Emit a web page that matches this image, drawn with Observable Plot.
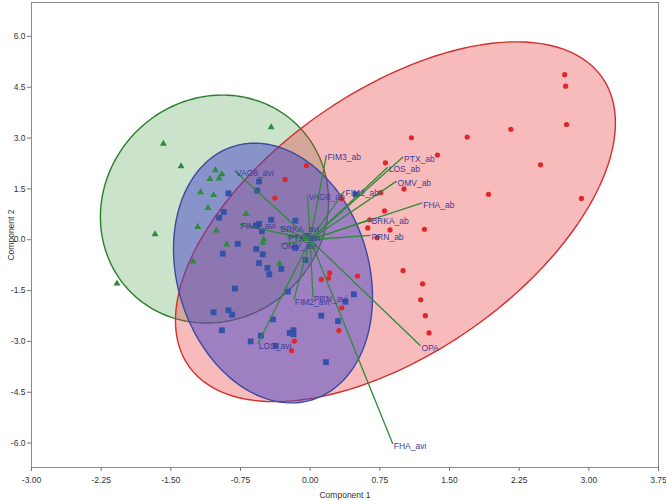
<!DOCTYPE html>
<html><head><meta charset="utf-8">
<script src="https://cdn.jsdelivr.net/npm/d3@7"></script>
<script src="https://cdn.jsdelivr.net/npm/@observablehq/plot@0.6"></script>
<style>body{margin:0;background:#fff;font-family:Arial,"Liberation Sans",sans-serif}</style>
</head><body><div id="chart"></div>
<script>
// Group "ab" (red circles)
const redX = [2.74,2.75,2.76,2.16,1.69,1.37,2.48,1.92,2.92,1.09,-0.04,0.81,1.01,0.76,0.34,0.80,0.64,0.62,0.86,1.23,0.72,1.00,1.21,1.19,1.24,1.28,0.21,0.20,0.12,0.51,0.34,0.31,-0.17,-0.20,-0.27,-0.38];
const redY = [4.87,4.53,3.40,3.26,3.03,2.50,2.21,1.34,1.22,3.01,2.19,2.27,1.50,1.39,1.21,0.85,0.59,0.35,0.29,0.31,0.06,-0.91,-1.30,-1.77,-2.24,-2.75,-0.98,-1.13,-1.17,-1.07,-2.01,-2.68,-2.99,-3.27,1.78,1.23];
// Group "avi" (blue squares)
const blueX = [-0.55,-0.57,-0.88,-0.93,-0.98,-0.42,-0.16,-0.55,-0.58,-0.52,-0.78,-0.58,-0.51,-0.94,-0.55,-0.46,-0.31,-0.44,-0.05,0.49,-0.03,0.04,-0.16,-0.81,-0.24,-1.04,-0.88,-0.84,-0.40,-0.95,-0.64,-0.53,-0.37,-0.22,-0.18,-0.18,0.12,0.30,0.38,0.17,0.47];
const blueY = [1.72,1.45,1.37,0.82,0.65,0.59,0.56,0.47,0.42,0.25,-0.12,-0.27,-0.43,-0.41,-0.69,-0.83,-0.86,-1.02,-0.60,1.34,0.11,0.06,-0.24,-1.44,-1.53,-2.14,-2.08,-2.21,-2.35,-2.67,-3.00,-2.83,-3.13,-2.75,-2.67,-2.79,-2.24,-2.40,-1.83,-3.61,-1.61];
// Third group (green triangles)
const greenX = [-0.42,-1.58,-1.39,-1.02,-0.95,-1.08,-0.98,-1.18,-1.04,-1.10,-0.69,-1.21,-1.01,-1.67,-0.50,-0.51,-0.90,-1.26,-0.33,-2.08];
const greenY = [3.32,2.83,2.17,2.05,1.93,1.79,1.81,1.40,1.32,0.94,0.76,0.38,0.27,0.16,0.01,-0.09,-0.14,-0.64,-0.70,-1.29];
// Loading vectors
const vecNames = ["FIM3_ab","PTX_ab","LOS_ab","OMV_ab","FHA_ab","BRKA_ab","PRN_ab","FIM2_ab","VAG8_ab","VAG8_avi","FIM3_avi","BRKA_avi","OMV_avi","PTX_avi","FIM2_avi","PRN_avi","LOS_avi","OPA","FHA_avi"];
const vecX = [0.175,1.00,0.835,0.93,1.206,0.649,0.649,0.37,-0.03,-0.81,-0.76,-0.33,-0.32,-0.25,-0.177,0.03,-0.564,1.187,0.889];
const vecY = [2.50,2.44,2.14,1.73,1.09,0.60,0.13,1.44,1.32,2.03,0.46,0.37,-0.13,0.10,-1.78,-1.71,-3.07,-3.13,-6.02];
// Ellipses: center, two conjugate semi-axis vectors (data units)
const ellNames = ["green","red","blue"];
const ellCx = [-1.030, 0.918, -0.400];
const ellCy = [0.905, 0.531, -0.982];
const ellUx = [0.898, 2.226, 0.423];
const ellUy = [2.460, 4.255, -3.739];
const ellVx = [0.838, 0.808, -0.984];
const ellVy = [-2.294, -3.173, -0.835];
const ellFill = ["#3c963c", "#e8383c", "#4646c8"];
const ellFillOp = [0.27, 0.34, 0.5];
const ellStroke = ["#2a7d2a", "#d32f2f", "#3a4aa0"];
const xTicks = [-3,-2.25,-1.5,-0.75,0,0.75,1.5,2.25,3,3.75];
const yTicks = [-6,-4.5,-3,-1.5,0,1.5,3,4.5,6];

const red = redX.map((x,i)=>({x, y: redY[i]}));
const blue = blueX.map((x,i)=>({x, y: blueY[i]}));
const green = greenX.map((x,i)=>({x, y: greenY[i]}));
const vecs = vecNames.map((n,i)=>({name:n, x: vecX[i], y: vecY[i]}));
const ellMarks = ellNames.map((n,k)=>{
  const pts = d3.range(0, 181).map(j => {
    const t = j / 180 * 2 * Math.PI;
    return {x: ellCx[k] + ellUx[k]*Math.cos(t) + ellVx[k]*Math.sin(t),
            y: ellCy[k] + ellUy[k]*Math.cos(t) + ellVy[k]*Math.sin(t)};
  });
  return Plot.line(pts, {x:"x", y:"y", curve:"linear-closed", fill: ellFill[k], fillOpacity: ellFillOp[k], stroke: ellStroke[k], strokeWidth: 1.4});
});

const chart = Plot.plot({
  width: 666, height: 501,
  marginLeft: 31, marginRight: 8, marginTop: 2, marginBottom: 34,
  style: {fontFamily: "Arial, 'Liberation Sans', sans-serif", background: "#fff"},
  x: {domain: [-3, 3.75]},
  y: {domain: [-6.72, 7.0]},
  marks: [
    ...ellMarks,
    Plot.dot(green, {x:"x", y:"y", symbol:"triangle", r: 2.6, fill:"#2e8b3a", stroke:"none"}),
    Plot.dot(blue, {x:"x", y:"y", symbol:"square", r: 3.3, fill:"#3452a8", stroke:"none"}),
    Plot.dot(red, {x:"x", y:"y", r: 2.6, fill:"#e0262a", stroke:"none"}),
    Plot.link(vecs, {x1: d => 0, y1: d => 0, x2:"x", y2:"y", stroke:"#2f8a3a", strokeWidth: 1.3}),
    Plot.text(vecs, {x:"x", y:"y", text:"name", textAnchor:"start", dx: 1, dy: 2, fill:"#3c3c9c", fontSize: 8.5}),
    Plot.frame({stroke:"#8a8a8a"}),
    Plot.axisX({ticks: xTicks, tickFormat: d => d.toFixed(2), tickSize: 4, tickPadding: 5, fontSize: 8.5, stroke:"#777", color:"#333", label: "Component 1", labelAnchor: "center", labelOffset: 30, labelArrow: "none"}),
    Plot.axisY({ticks: yTicks, tickFormat: d => d.toFixed(1), tickSize: 4, tickPadding: 2, fontSize: 8.5, stroke:"#777", color:"#333", label: "Component 2", labelAnchor: "center", labelOffset: 24, labelArrow: "none"})
  ]
});
document.getElementById("chart").appendChild(chart);
</script>
</body></html>
